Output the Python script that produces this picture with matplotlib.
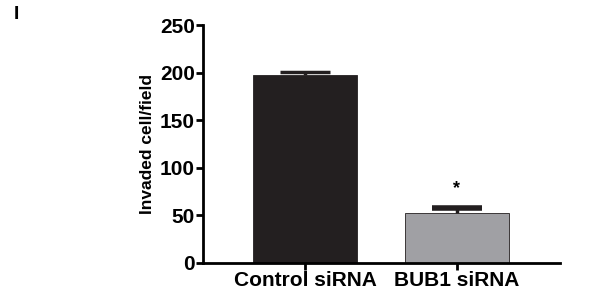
import matplotlib.pyplot as plt

groups = ["Control siRNA", "BUB1 siRNA"]
means = [198, 53]
errs = [2.5, 4.5]
bar_colors = ["#231f20", "#a0a0a4"]

plt.rcParams["font.family"] = ["Liberation Sans", "DejaVu Sans"]
fig = plt.figure(figsize=(6.05, 2.96), dpi=100)
ax = fig.add_axes([0.3355, 0.1115, 0.59, 0.804])

x = list(range(len(groups)))
ax.bar(x, means, width=0.684, color=bar_colors, edgecolor="#231f20", linewidth=0.6, zorder=2)
# upper error only: stem + cap
tops = [m + e for m, e in zip(means, errs)]
ax.vlines(x, means, tops, color="#231f20", linewidth=2.5, zorder=3)
ax.hlines(tops, [i - 0.165 for i in x], [i + 0.165 for i in x], color="#231f20",
          linewidth=[2.5, 4], zorder=3)
ax.text(1, tops[1] + 21, "*", ha="center", va="center", fontsize=13, fontweight="bold")

ax.set_xlim(-0.671, 1.678)
ax.set_ylim(0, 250)
ax.set_yticks([0, 50, 100, 150, 200, 250])
ax.set_xticks(x)
ax.set_xticklabels(groups)
ax.spines["top"].set_visible(False)
ax.spines["right"].set_visible(False)
for s in ["left", "bottom"]:
    ax.spines[s].set_linewidth(2)
ax.tick_params(axis="both", width=2, length=5, labelsize=15, pad=1)
for lab in ax.get_xticklabels() + ax.get_yticklabels():
    lab.set_fontweight("bold")
ax.set_ylabel("Invaded cell/field", fontsize=12.5, fontweight="bold", labelpad=3)

fig.text(0.022, 0.95, "I", fontsize=14, fontweight="bold", va="center")

fig.savefig("out.png", dpi=100)
